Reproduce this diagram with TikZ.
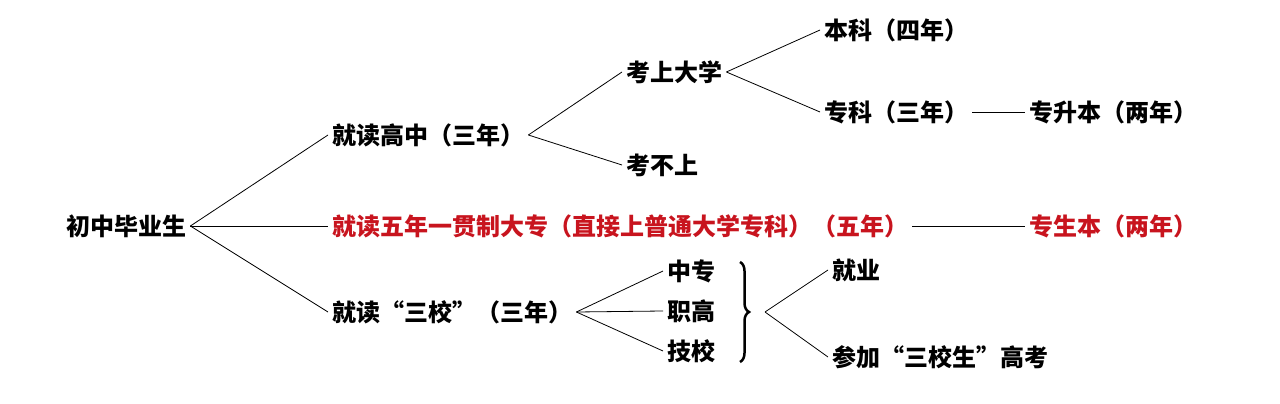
\documentclass[tikz,border=0pt]{standalone}
\usepackage{fontspec}
\setmainfont{Noto Sans CJK SC}
\usetikzlibrary{positioning, calc, decorations.pathreplacing}
\definecolor{redtxt}{RGB}{200,20,30}
\tikzset{item/.style={anchor=west, inner sep=4pt, font=\bfseries\fontsize{24}{26}\selectfont},
  link/.style={thick}}

\begin{document}
\begin{tikzpicture}[x=1pt, y=-1pt]
\useasboundingbox (0,0) rectangle (1280,404);
\node[item] (grad) at (62,226) {初中毕业生};
\node[item] (high) at (328,135) {就读高中（三年）};
\node[item, text=redtxt] (five) at (328,226) {就读五年一贯制大专（直接上普通大学专科）（五年）};
\node[item] (three) at (328,312) {就读“三校”（三年）};
\node[item] (pass) at (622,72) {考上大学};
\node[item] (fail) at (622,165) {考不上};
\node[item] (bach) at (820,30) {本科（四年）};
\node[item] (assoc) at (820,112) {专科（三年）};
\node[item] (upgr) at (1025,112) {专升本（两年）};
\node[item, text=redtxt] (upgr2) at (1025,226) {专生本（两年）};
\node[item] (zz) at (663,271) {中专};
\node[item] (zg) at (663,311) {职高};
\node[item] (jx) at (663,351) {技校};
\node[item] (job) at (828,270) {就业};
\node[item] (exam) at (828,357) {参加“三校生”高考};
\coordinate (br) at (765,312);
\draw[link] (grad.east) -- (high.west);
\draw[link] (grad.east) -- (five.west);
\draw[link] (grad.east) -- (three.west);
\draw[link] (high.east) -- (pass.west);
\draw[link] (high.east) -- (fail.west);
\draw[link] (pass.east) -- (bach.west);
\draw[link] (pass.east) -- (assoc.west);
\draw[link] (assoc.east) -- (upgr.west);
\draw[link] (five.east) -- (upgr2.west);
\draw[link] (three.east) -- (zz.west);
\draw[link] (three.east) -- (zg.west);
\draw[link] (three.east) -- (jx.west);
\draw[line width=2.5pt, decorate, decoration={brace, amplitude=9pt}] (740,262) -- (740,362);
\draw[link] (br) -- (job.west);
\draw[link] (br) -- (exam.west);
\end{tikzpicture}
\end{document}
